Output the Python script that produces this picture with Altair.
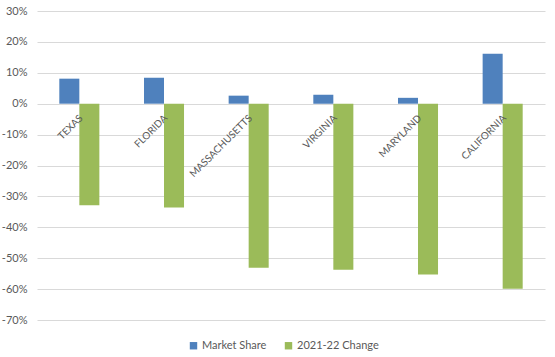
import altair as alt
import pandas as pd

states = ["TEXAS", "FLORIDA", "MASSACHUSETTS", "VIRGINIA", "MARYLAND", "CALIFORNIA"]
market_share = [0.081, 0.084, 0.026, 0.029, 0.019, 0.162]
change_2122 = [-0.329, -0.336, -0.531, -0.537, -0.553, -0.599]
series = ["Market Share", "2021-22 Change"]
colors = ["#4F81BD", "#9BBB59"]
y_ticks = [0.3, 0.2, 0.1, 0.0, -0.1, -0.2, -0.3, -0.4, -0.5, -0.6, -0.7]

rows = []
for s, m, c in zip(states, market_share, change_2122):
    rows.append({"state": s, "series": series[0], "value": m})
    rows.append({"state": s, "series": series[1], "value": c})
df = pd.DataFrame(rows)
labels = pd.DataFrame({"state": states, "zero": [0.0] * len(states)})

FONT = "Lato"

xscale = alt.Scale(domain=states, paddingInner=0.527, paddingOuter=0.2635)
yscale = alt.Scale(domain=[-0.7, 0.3], nice=False, zero=False)
yaxis = alt.Axis(values=y_ticks, title=None, domain=False, ticks=False,
                 labelExpr="round(datum.value*100) + '%'", labelOverlap=False,
                 labelColor="#595959", labelFont=FONT, labelFontSize=11,
                 labelPadding=10, gridColor="#D9D9D9", gridWidth=1)

bars = alt.Chart(df).mark_bar().encode(
    x=alt.X("state:N", scale=xscale, axis=None, sort=states),
    xOffset=alt.XOffset("series:N", sort=series, scale=alt.Scale(domain=series, paddingInner=0, paddingOuter=0)),
    y=alt.Y("value:Q", scale=yscale, axis=yaxis),
    color=alt.Color("series:N", scale=alt.Scale(domain=series, range=colors),
                    sort=series,
                    legend=alt.Legend(title=None, orient="none", direction="horizontal",
                                      legendX=151, legendY=329, symbolType="square",
                                      symbolSize=55, symbolStrokeWidth=0,
                                      labelFont=FONT, labelFontSize=11, labelColor="#595959",
                                      columnPadding=16, symbolOffset=0, labelOffset=3)),
)

text = alt.Chart(labels).mark_text(
    angle=315, align="right", baseline="middle", font=FONT, fontSize=10, color="#595959"
).encode(
    x=alt.X("state:N", scale=xscale, sort=states, axis=None),
    y=alt.Y("zero:Q", scale=yscale, axis=yaxis),
    xOffset=alt.value(22),
    yOffset=alt.value(13),
    text="state:N",
)

chart = alt.layer(bars, text).properties(
    width=508, height=309,
    autosize=alt.AutoSizeParams(type="none"),
    padding={"left": 37, "top": 11, "right": 10, "bottom": 37},
    background="white",
).configure_view(strokeWidth=0, stroke=None)

chart.save("out.html", embed_options={"renderer": "svg", "actions": False})
